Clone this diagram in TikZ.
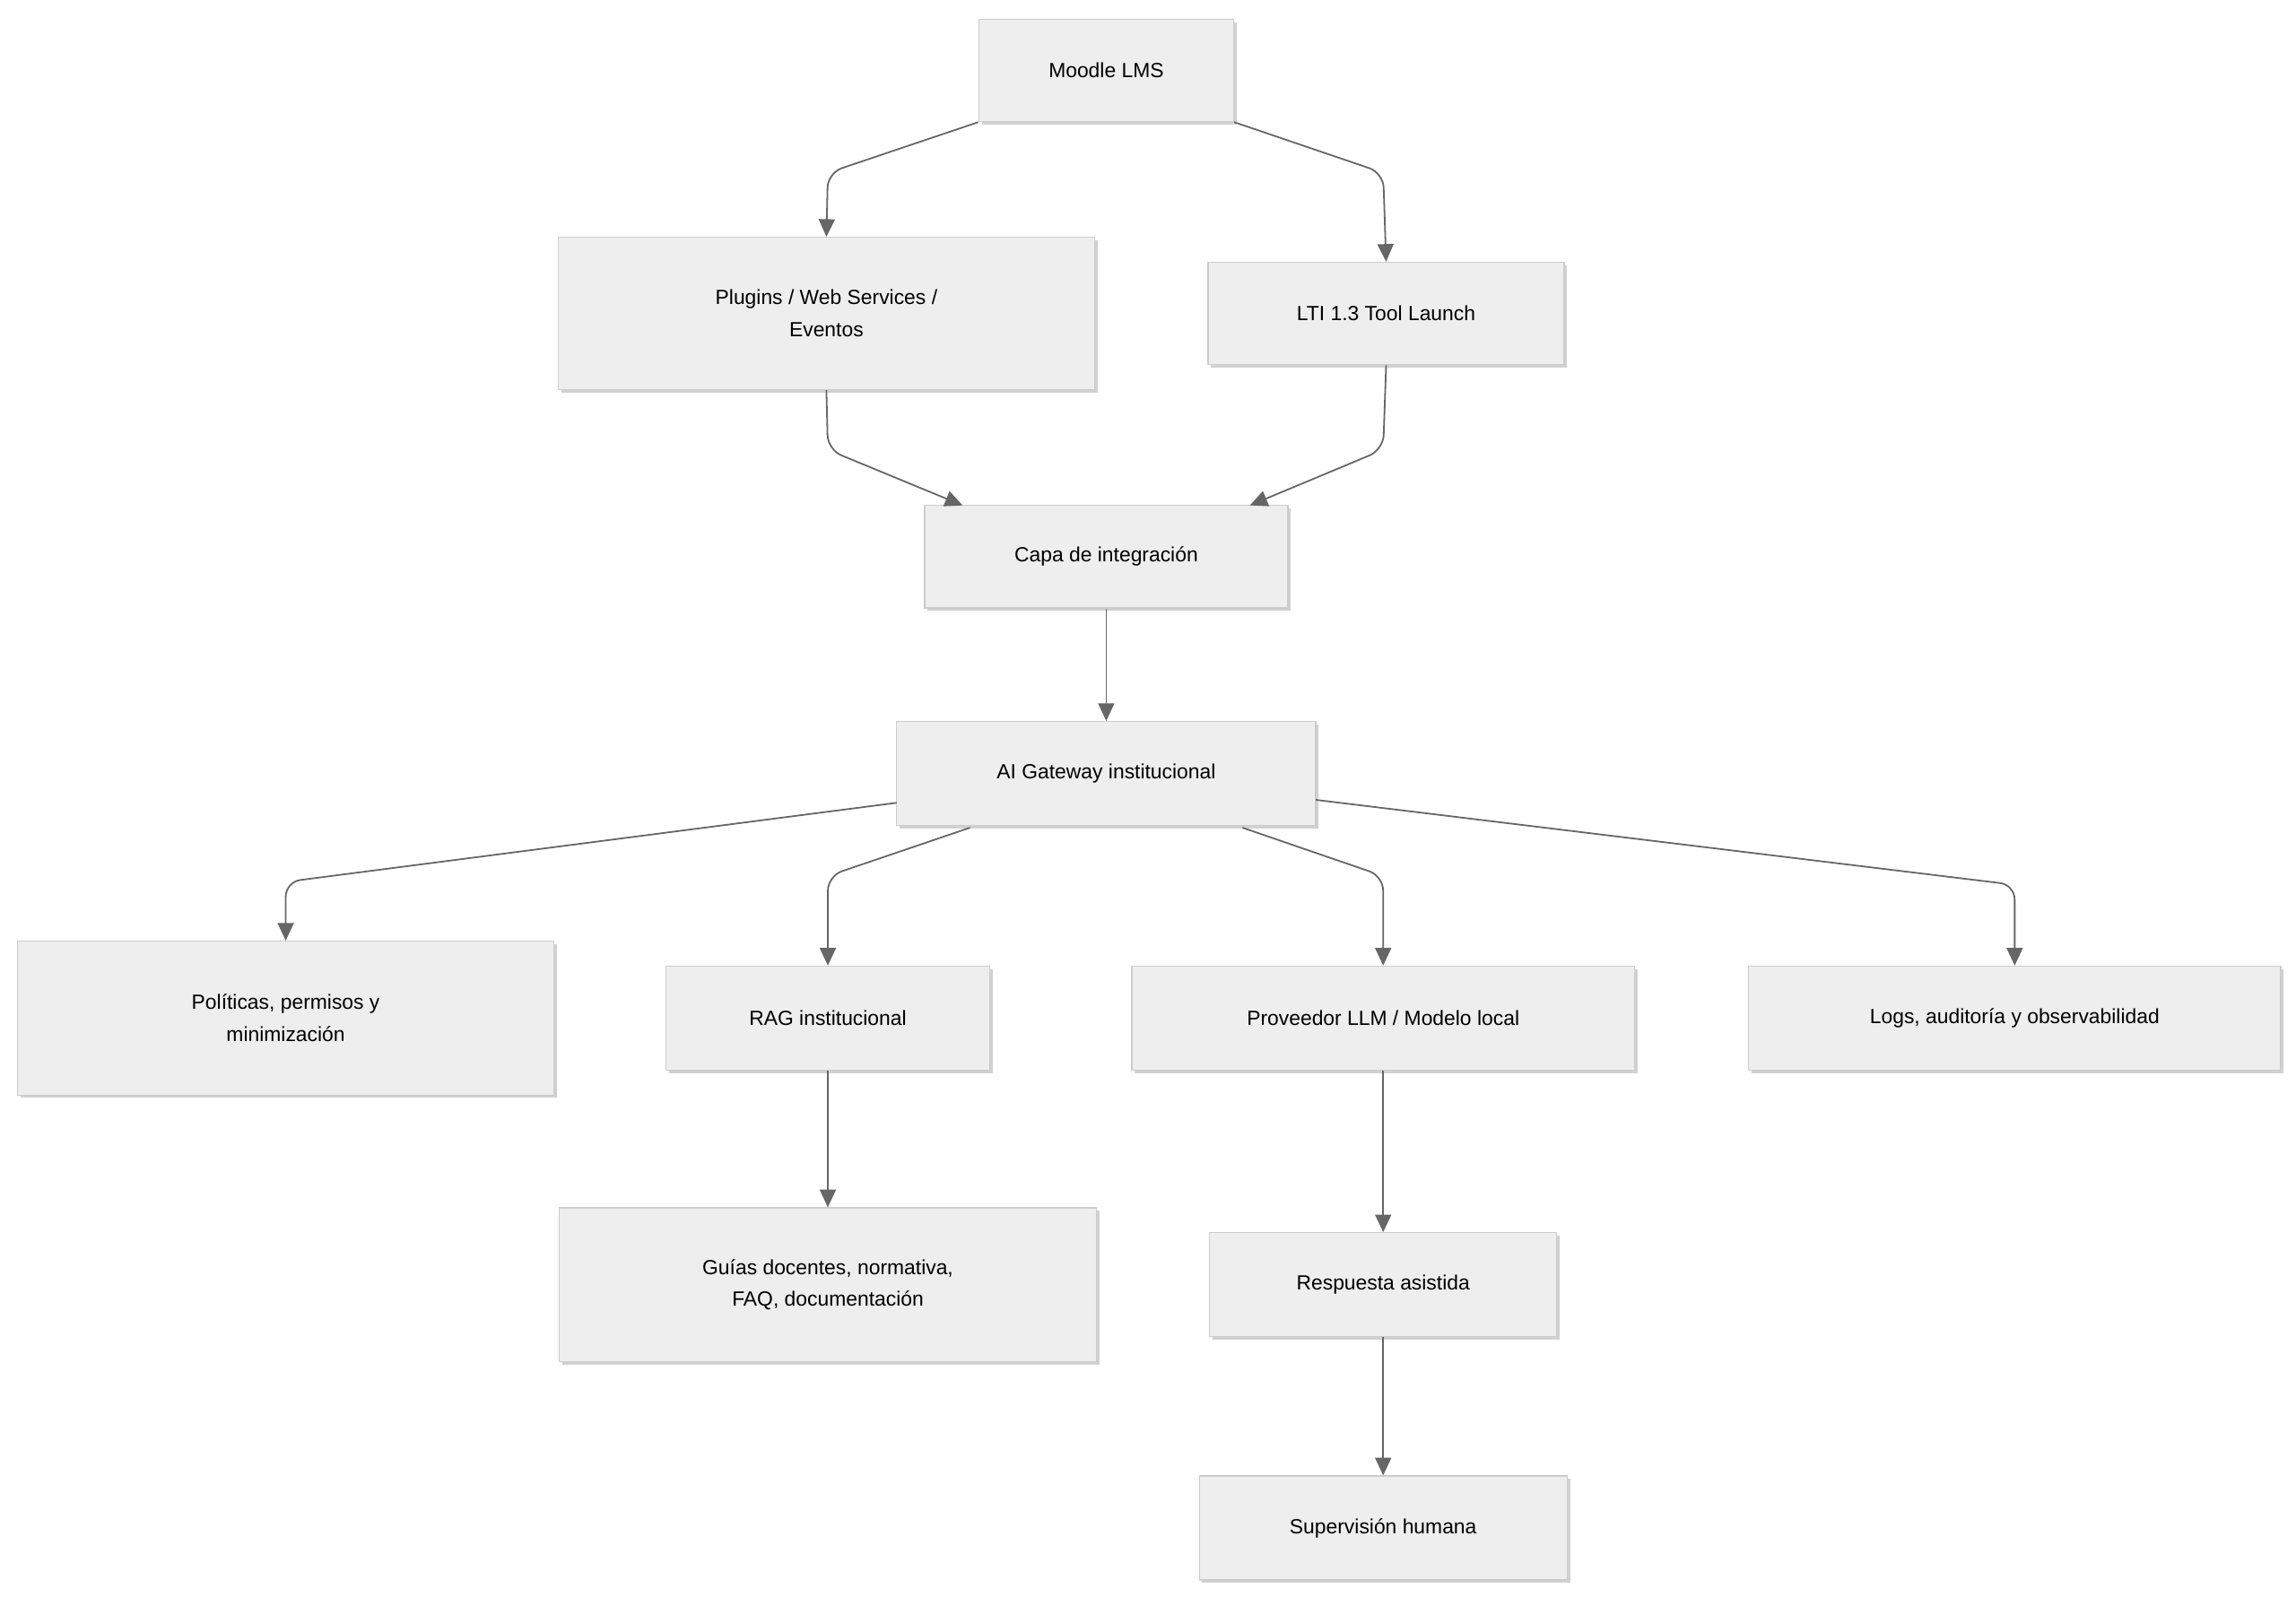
\documentclass[tikz,border=0pt]{standalone}
\usepackage{fontspec}
\setmainfont{Liberation Sans}
\usetikzlibrary{arrows.meta,shadows}
\definecolor{boxfill}{HTML}{EEEEEE}
\definecolor{boxline}{HTML}{CCCCCC}
\definecolor{edge}{HTML}{666666}
\tikzset{
  box/.style={draw=boxline,fill=boxfill,line width=0.8pt,align=center,font=\fontsize{14}{22}\selectfont,
    inner sep=0pt,drop shadow={shadow xshift=2pt,shadow yshift=-2pt,opacity=0.3,fill=black!60}},
  conn/.style={draw=edge,line width=1.1pt,rounded corners=10pt,-{Triangle[length=12pt,width=11pt]}}
}
\begin{document}
\begin{tikzpicture}[x=1pt,y=-1pt]
\useasboundingbox (0,0) rectangle (1567,1090);
\node[box,minimum width=174pt,minimum height=70pt] (moodle) at (755,48) {Moodle LMS};
\node[box,minimum width=366pt,minimum height=104pt] (plug) at (564,214) {Plugins / Web Services /\\Eventos};
\node[box,minimum width=243pt,minimum height=70pt] (lti) at (946,214) {LTI 1.3 Tool Launch};
\node[box,minimum width=248pt,minimum height=70pt] (capa) at (755,380) {Capa de integración};
\node[box,minimum width=286pt,minimum height=71pt] (gw) at (755,528) {AI Gateway institucional};
\node[box,minimum width=366pt,minimum height=105pt] (pol) at (195,695) {Políticas, permisos y\\minimización};
\node[box,minimum width=221pt,minimum height=71pt] (rag) at (565,695) {RAG institucional};
\node[box,minimum width=343pt,minimum height=71pt] (llm) at (944,695) {Proveedor LLM / Modelo local};
\node[box,minimum width=363pt,minimum height=71pt] (logs) at (1375,695) {Logs, auditoría y observabilidad};
\node[box,minimum width=367pt,minimum height=105pt] (guias) at (565,877) {Guías docentes, normativa,\\FAQ, documentación};
\node[box,minimum width=237pt,minimum height=71pt] (resp) at (944,877) {Respuesta asistida};
\node[box,minimum width=251pt,minimum height=71pt] (sup) at (944,1043) {Supervisión humana};

\coordinate (b1) at (565,118);
\coordinate (b2) at (944,118);
\draw[conn] (moodle.south west) -- (b1) -- (plug.north);
\draw[conn] (moodle.south east) -- (b2) -- (lti.north);
\coordinate (b3) at (565,307);
\coordinate (b4) at (944,307);
\coordinate (t1) at (657,345);
\coordinate (t2) at (853,345);
\draw[conn] (plug.south) -- (b3) -- (t1);
\draw[conn] (lti.south) -- (b4) -- (t2);
\draw[conn] (capa.south) -- (gw.north);
\coordinate (g1) at (612,548);
\coordinate (g2) at (662,565);
\coordinate (g3) at (848,565);
\coordinate (g4) at (898,546);
\coordinate (c1) at (195,602);
\coordinate (c2) at (565,598);
\coordinate (c3) at (944,598);
\coordinate (c4) at (1375,604);
\draw[conn] (g1) -- (c1) -- (pol.north);
\draw[conn] (g2) -- (c2) -- (rag.north);
\draw[conn] (g3) -- (c3) -- (llm.north);
\draw[conn] (g4) -- (c4) -- (logs.north);
\draw[conn] (rag.south) -- (guias.north);
\draw[conn] (llm.south) -- (resp.north);
\draw[conn] (resp.south) -- (sup.north);
\end{tikzpicture}
\end{document}
